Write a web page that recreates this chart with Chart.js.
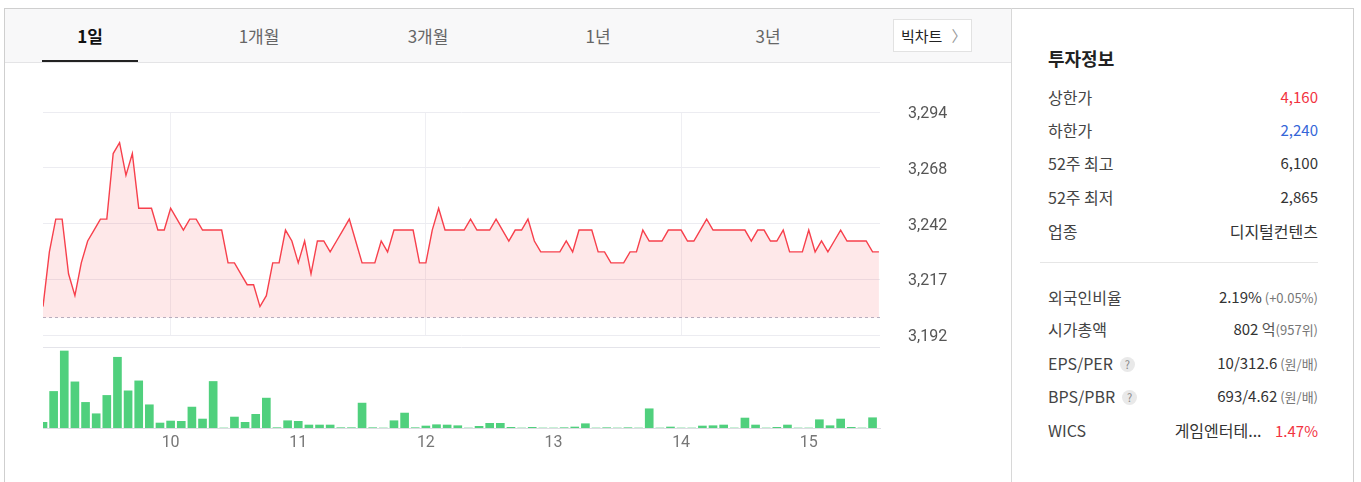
<!DOCTYPE html>
<html>
<head>
<meta charset="utf-8">
<script src="https://cdn.jsdelivr.net/npm/chart.js@4.4.0/dist/chart.umd.min.js"></script>
<style>
body{margin:0;background:#fff;font-family:"Noto Sans CJK KR","Noto Sans",sans-serif;width:1361px;height:482px;overflow:hidden;position:relative}
#frame{position:absolute;left:4px;top:8px;width:1350px;height:490px;border:1px solid #cfcfcf;box-sizing:border-box}
#tabbar{position:absolute;left:5px;top:9px;width:1006px;height:53px;background:#f8f8f9;border-bottom:1px solid #e4e4e6}
.tab{position:absolute;top:24px;width:100px;margin-left:-50px;text-align:center;font-size:17px;color:#666;line-height:24px}
.tab.on{color:#111;font-weight:bold}
#uline{position:absolute;left:42px;top:60px;width:96px;height:2px;background:#222}
#big{position:absolute;left:893px;top:19px;width:79px;height:33px;box-sizing:border-box;background:#fff;border:1px solid #e2e2e2;font-size:15px;line-height:31px;color:#222;padding-left:7px}
#big span{color:#999;margin-left:9px}
#side{position:absolute;left:1011px;top:8px;width:1px;height:480px;background:#d8d8d8}
.ttl{position:absolute;left:1048px;top:45px;font-size:18px;font-weight:bold;color:#222}
.row{position:absolute;left:1048px;width:270px;height:22px;line-height:22px;font-size:16px;color:#444}
.row b{position:absolute;right:0;top:0;font-weight:normal;color:#333;font-size:15px}
.row b .k{font-size:16px}
.row small{font-size:13px;color:#777}
.q{display:inline-block;width:15px;height:15px;border-radius:50%;background:#e9e9e9;color:#888;font-size:11px;line-height:15px;text-align:center;margin-left:7px;vertical-align:1px}
#sep{position:absolute;left:1040px;top:262px;width:278px;height:1px;background:#e6e6e6}
canvas{position:absolute;left:0}
</style>
</head>
<body>
<div id="frame"></div>
<div id="tabbar"></div>
<div class="tab on" style="left:90px">1일</div>
<div class="tab" style="left:259px">1개월</div>
<div class="tab" style="left:428px">3개월</div>
<div class="tab" style="left:598px">1년</div>
<div class="tab" style="left:768px">3년</div>
<div id="uline"></div>
<div id="big">빅차트<span>〉</span></div>
<div id="side"></div>

<div class="ttl">투자정보</div>
<div class="row" style="top:86px">상한가<b style="color:#f2333f">4,160</b></div>
<div class="row" style="top:119px">하한가<b style="color:#3566d8">2,240</b></div>
<div class="row" style="top:152px">52주 최고<b>6,100</b></div>
<div class="row" style="top:186px">52주 최저<b>2,865</b></div>
<div class="row" style="top:220px">업종<b><span class="k">디지털컨텐츠</span></b></div>
<div id="sep"></div>
<div class="row" style="top:286px">외국인비율<b>2.19%<small> (+0.05%)</small></b></div>
<div class="row" style="top:318px">시가총액<b>802 <small style="font-size:15px;color:#555">억</small><small>(957위)</small></b></div>
<div class="row" style="top:352px">EPS/PER<span class="q">?</span><b>10/312.6<small> (원/배)</small></b></div>
<div class="row" style="top:385px">BPS/PBR<span class="q">?</span><b>693/4.62<small> (원/배)</small></b></div>
<div class="row" style="top:419px">WICS<b><span class="k">게임엔터테...</span>&nbsp;&nbsp;&nbsp;&nbsp;<span style="color:#f2333f">1.47%</span></b></div>

<canvas id="price" width="1000" height="250" style="top:100px"></canvas>
<canvas id="vol" width="1000" height="120" style="top:340px"></canvas>

<script>
// 3분 간격 가격 (09:00 ~ 15:33)
var priceData = [
  3205,3230,3245,3245,3220,3210,3225,3235,3240,3245,
  3245,3275,3280,3265,3275,3250,3250,3250,3240,3240,
  3250,3245,3240,3245,3245,3240,3240,3240,3240,3225,
  3225,3220,3215,3215,3205,3210,3225,3225,3240,3235,
  3225,3235,3220,3235,3235,3230,3235,3240,3245,3235,
  3225,3225,3225,3235,3230,3240,3240,3240,3240,3225,
  3225,3240,3250,3240,3240,3240,3240,3245,3240,3240,
  3240,3245,3240,3235,3240,3240,3245,3235,3230,3230,
  3230,3230,3235,3230,3240,3240,3240,3230,3230,3225,
  3225,3225,3230,3230,3240,3235,3235,3235,3240,3240,
  3240,3235,3235,3240,3245,3240,3240,3240,3240,3240,
  3240,3235,3240,3240,3235,3235,3240,3230,3230,3230,
  3240,3230,3235,3230,3235,3240,3235,3235,3235,3235,
  3230,3230
];
var priceStep = 3;   // 분
var prevClose = 3200;

// 5분 거래량
var volData = [
  5700,36700,77300,46300,25700,14300,32700,71000,37300,47300,
  23300,5000,7000,6700,21000,9000,46700,0,11000,5700,
  13700,30000,300,7300,6700,3000,3000,3000,300,300,
  25000,300,0,7300,15000,300,2000,3300,3000,2300,
  0,1700,4700,4700,700,0,700,0,0,300,
  1000,4300,0,300,0,300,0,19300,0,1000,
  0,0,2000,2300,3000,0,10000,3000,0,700,
  3000,0,0,8300,2300,9000,700,0,10300
];
var volStep = 5;

var yTickValues = [3192, 3217.5, 3243, 3268.5, 3294];
var yTickLabels = ['3,192', '3,217', '3,242', '3,268', '3,294'];
var hourTicks = [60, 120, 180, 240, 300, 360];
var hourLabels = ['10', '11', '12', '13', '14', '15'];
var gridTicks = [60, 180, 300];
var xMax = 393.5;
var volMax = 81300;

var pricePts = priceData.map(function(v, i){ return {x: i * priceStep, y: v}; });
var volPts = volData.map(function(v, i){ return {x: i * volStep, y: v}; });

new Chart(document.getElementById('price'), {
  type: 'line',
  data: {
    datasets: [
      {
        data: pricePts,
        borderColor: '#f7404c',
        borderWidth: 1.4,
        backgroundColor: 'rgba(250,90,100,0.14)',
        fill: {value: prevClose},
        pointRadius: 0,
        tension: 0
      },
      {
        data: [{x: 0, y: prevClose}, {x: xMax, y: prevClose}],
        borderColor: '#b4b4c4',
        borderWidth: 1,
        borderDash: [3, 3],
        pointRadius: 0,
        fill: false
      }
    ]
  },
  options: {
    responsive: false,
    devicePixelRatio: 1,
    animation: false,
    layout: {padding: {left: 43, top: 12, right: 0, bottom: 0}},
    plugins: {legend: {display: false}, tooltip: {enabled: false}},
    scales: {
      x: {
        type: 'linear', min: 0, max: xMax,
        afterBuildTicks: function(axis){ axis.ticks = gridTicks.map(function(v){ return {value: v}; }); },
        afterFit: function(axis){ axis.height = 15; },
        ticks: {display: false},
        grid: {color: '#efeff3', drawTicks: false},
        border: {display: false}
      },
      y: {
        position: 'right',
        min: 3192, max: 3294,
        afterBuildTicks: function(axis){ axis.ticks = yTickValues.map(function(v){ return {value: v}; }); },
        afterFit: function(axis){ axis.width = 120; axis.paddingTop = 0; axis.paddingBottom = 0; },
        ticks: {
          padding: 0,
          labelOffset: 2,
          color: '#555',
          font: {family: 'Roboto', size: 16},
          callback: function(v, i){ return yTickLabels[i]; }
        },
        grid: {color: '#ececf1', drawTicks: true, tickLength: 28, tickColor: 'rgba(0,0,0,0)'},
        border: {display: false}
      }
    }
  }
});

new Chart(document.getElementById('vol'), {
  type: 'bar',
  data: {
    datasets: [{
      data: volPts,
      backgroundColor: '#50d07d',
      barThickness: 8
    }]
  },
  options: {
    responsive: false,
    devicePixelRatio: 1,
    animation: false,
    layout: {padding: {left: 43, top: 7, right: 0, bottom: 0}},
    plugins: {legend: {display: false}, tooltip: {enabled: false}},
    scales: {
      x: {
        type: 'linear', min: 0, max: xMax, offset: false,
        afterBuildTicks: function(axis){ axis.ticks = hourTicks.map(function(v){ return {value: v}; }); },
        afterFit: function(axis){ axis.height = 32; },
        ticks: {
          padding: 5,
          color: '#777',
          maxRotation: 0,
          font: {family: 'Roboto', size: 16},
          callback: function(v, i){ return hourLabels[i]; }
        },
        grid: {display: false, offset: false, drawTicks: false},
        border: {display: true, color: '#dcdce2', width: 1}
      },
      y: {
        position: 'right',
        min: 0, max: volMax,
        afterBuildTicks: function(axis){ axis.ticks = [{value: volMax}]; },
        afterFit: function(axis){ axis.width = 120; },
        ticks: {display: false},
        grid: {color: '#e4e4ea', drawTicks: false},
        border: {display: false}
      }
    }
  }
});
</script>
</body>
</html>
